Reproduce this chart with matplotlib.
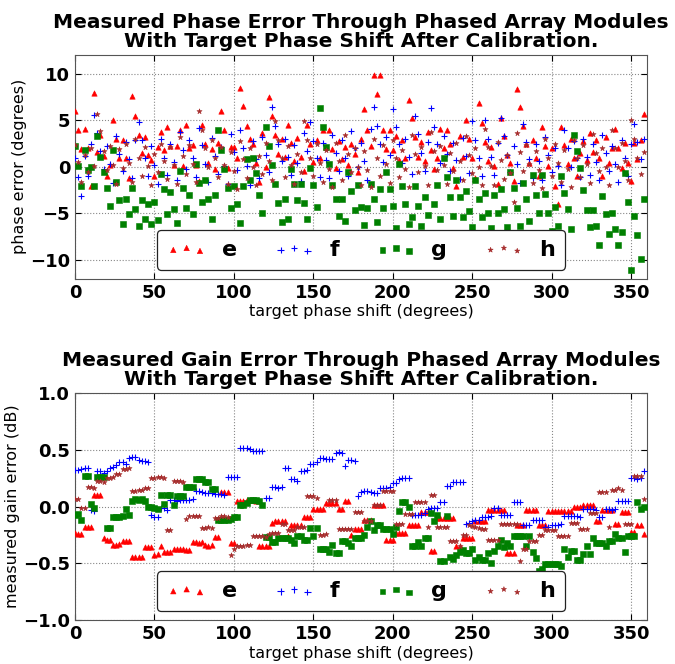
import numpy as np
import matplotlib
matplotlib.use("Agg")
import matplotlib.pyplot as plt

# target phase settings (2 degree steps)
phase = np.arange(0, 360, 2)

# ---- phase error (degrees) per module ----
phase_e = [6.0, 3.9, 1.9, 4.1, 2.0, -2.1, 7.9, 1.6, 3.4, 1.2,
           -1.0, 0.2, 5.0, 3.0, 1.0, 2.9, 0.9, -1.25, 7.6, 5.5,
           3.4, 1.5, 3.2, 1.25, 0.7, -1.0, 2.1, 3.75, 1.8, 4.3,
           2.2, 0.15, 2.2, 4.0, 0.1, 4.5, 2.0, 2.3, 0.2, -1.5,
           4.5, 2.4, 0.4, 1.9, -0.2, 2.6, 6.0, 3.9, -0.1, 2.1,
           2.1, 1.0, 8.5, 6.5, 4.4, 3.0, 2.4, 0.36, -1.6, 3.6,
           0.0, 7.5, 5.5, 3.4, 1.4, 3.0, 1.1, 4.5, 2.6, 0.6,
           3.1, 1.1, -0.5, 4.5, 2.5, 0.5, 2.9, 0.9, 3.9, 2.1,
           3.9, 1.9, -0.1, 2.75, 0.8, 2.1, 0.2, 2.5, 1.4, -0.6,
           3.0, 6.25, 3.9, 2.2, 9.9, 7.8, 9.9, 3.9, 1.9, 3.9,
           1.8, 3.3, 0.7, 2.9, 0.9, 7.2, 5.2, 3.2, 1.1, 2.7,
           0.6, 3.75, 1.8, -0.2, 1.0, 4.1, 2.0, 3.9, 2.4, -0.1,
           -2.1, 3.3, 1.1, 5.0, 3.0, 1.0, -1.2, 6.8, 4.7, 2.7,
           0.6, 2.1, 0.1, -1.8, 5.25, 3.3, 1.25, 0.4, -1.5, 8.4,
           6.4, 4.4, 2.4, 0.4, 2.9, 0.9, -1.0, 4.3, 2.2, 0.1,
           2.0, -2.1, -4.0, 4.3, 2.3, 0.3, 3.0, 1.0, -1.0, 1.5,
           2.8, 0.7, 3.6, 1.6, 2.9, 0.9, -1.0, 3.2, 0.4, 2.0,
           4.1, 2.0, -0.1, 2.6, 0.4, -1.5, 2.6, 0.8, 2.9, 5.7]
phase_f = [1.0, -1.1, -3.1, 1.2, -1.0, 2.4, 5.6, 3.6, 1.7, -0.2,
           2.2, 0.3, -1.7, 3.3, 1.4, -0.5, 2.7, 0.8, -1.2, 2.9,
           4.8, 2.9, 0.9, -1.0, 2.2, 0.2, -1.8, 3.0, 1.0, -0.9,
           2.4, 0.5, -1.4, 3.7, 1.8, -0.2, 2.9, 0.9, -1.1, 4.2,
           2.3, 0.3, -1.6, 3.1, 1.2, -0.8, 2.1, 0.1, -1.8, 3.5,
           1.6, -0.3, 4.0, 2.0, 0.1, -1.9, 2.8, 0.8, -1.2, 3.2,
           1.3, -0.6, 6.4, 4.4, 2.5, 0.6, 3.0, 1.1, -0.9, 2.3,
           0.4, -1.5, 3.6, 1.7, 4.8, 2.8, 0.9, -1.1, 2.6, 0.7,
           -1.2, 3.4, 1.5, -0.4, 2.9, 1.0, -1.0, 3.8, 2.0, 0.0,
           2.6, 0.6, -1.4, 4.1, 6.4, 4.4, 2.4, 0.5, 3.2, 1.3,
           6.25, 4.3, 2.4, 0.4, 3.0, 1.1, -0.8, 5.4, 3.5, 1.5,
           -0.4, 2.7, 6.3, 4.3, 2.4, 0.4, 3.3, 1.4, -0.5, 2.6,
           0.7, -1.3, 3.1, 1.2, -0.7, 4.9, 2.9, 1.0, -1.0, 5.0,
           3.0, 1.1, -0.9, 2.6, 5.2, 3.3, 1.3, -0.6, 2.2, 0.3,
           -1.7, 4.6, 2.7, 0.8, -1.2, 2.5, 0.6, -1.4, 3.2, 1.3,
           -0.6, 2.0, 0.1, -1.9, 3.9, 2.0, 0.0, 2.8, 0.9, -1.1,
           3.0, 1.1, -0.9, 2.4, 0.5, -1.4, 3.4, 1.5, -0.5, 2.2,
           0.3, -1.6, 2.9, 1.0, -1.0, 2.4, 4.6, 2.7, 0.8, 3.0]
phase_g = [2.2, 0.07, -2.1, 1.8, -0.3, 0.0, -2.1, 3.3, 1.1, -0.6,
           -2.3, -4.2, 1.8, -1.6, -3.6, -6.1, -3.5, -5.1, -2.25, -4.5,
           -6.4, -3.6, -5.6, -4.0, -6.1, -3.75, -5.7, -0.8, -2.4, -5.1,
           -2.7, -4.5, -6.0, -0.5, -2.25, -4.4, -3.0, -5.1, 0.25, -1.7,
           -3.75, -1.4, -3.4, -5.6, -3.0, 3.9, 1.8, -0.2, -2.3, -4.4,
           -2.1, -4.0, -6.0, -2.1, 0.86, -1.4, 1.0, -0.7, -3.0, -4.9,
           4.3, 2.2, 0.2, -1.8, -3.9, -5.9, -3.5, -5.6, -0.2, -1.8,
           -3.6, -1.8, -3.9, -5.6, -0.1, -2.0, -4.3, 6.3, 4.3, 2.1,
           0.3, -1.9, -3.5, -5.3, -3.5, -5.8, -0.6, -2.6, -4.6, -2.0,
           -4.3, -6.2, -4.4, -1.8, -3.5, -5.9, -2.4, -4.4, -0.6, -2.4,
           -4.2, -6.6, 0.3, -2.1, -4.0, -6.1, -5.4, -2.1, -4.2, -6.3,
           -3.2, -5.2, -7.1, -4.0, -2.0, -5.6, 1.0, -1.1, -3.2, -5.25,
           -1.4, -3.2, -5.4, -2.6, -4.7, -6.5, -1.4, -3.4, -5.4, -2.8,
           -4.9, -6.6, -3.0, -5.0, -2.4, -4.5, -6.5, -0.6, -2.25, -4.4,
           -6.3, -1.7, -3.5, -5.8, -0.9, -3.0, -4.9, -0.9, -2.9, -4.9,
           -6.9, -4.3, -6.4, -1.0, -2.8, -4.5, -6.7, 3.4, 1.7, -0.1,
           -2.5, -4.6, -6.5, -4.6, -6.3, -8.4, -3.1, -5.1, -7.2, -4.9,
           -6.7, -8.4, -7.0, -0.7, -3.75, -11.1, -5.3, -7.3, -9.9, -3.5]
phase_h = [2.3, 0.5, -1.6, 1.3, -0.6, 2.0, 0.1, 5.7, 3.8, 1.7,
           -0.3, 2.2, 0.2, -1.8, 1.9, -0.1, 2.4, 0.4, -1.6, 3.0,
           1.0, -1.0, 2.1, 0.1, -2.0, 1.4, -0.6, 2.5, 0.6, -1.3,
           2.1, 0.2, -1.8, 3.2, 1.2, -0.8, 2.3, 0.3, -1.6, 6.0,
           4.0, 2.0, 0.0, 2.9, 0.9, -1.1, 2.1, 0.2, -1.8, 1.6,
           -0.4, -2.4, 2.8, 0.8, -1.2, 2.0, 0.0, -2.0, 1.2, -0.8,
           2.6, 0.6, -1.4, 4.9, 2.9, 0.9, -1.1, 2.2, 0.2, -1.8,
           1.4, -0.6, 4.9, 2.9, 1.0, -1.0, 2.4, 0.4, -1.6, 1.8,
           -0.2, -2.2, 2.6, 0.6, -1.4, 3.4, 1.4, -0.6, 2.0, 0.0,
           -2.0, 1.7, -0.3, -2.2, 3.0, 1.0, -1.0, 2.3, 0.3, -1.7,
           2.9, 0.9, -1.1, 1.8, -0.2, -2.2, 3.4, 1.4, -0.6, 2.1,
           0.1, -1.9, 3.7, 1.7, -0.3, 2.2, 0.2, -1.8, 1.5, -0.5,
           2.6, 0.6, -1.4, 3.3, 1.3, -0.7, 2.0, 0.0, -2.0, 4.1,
           2.1, 0.1, -1.9, 2.7, 0.7, -1.3, 1.3, -0.7, -3.75, 3.6,
           1.6, -0.4, 2.3, 0.3, -1.7, 1.7, -0.3, -2.3, 3.0, 1.0,
           -1.0, 2.4, 0.4, -1.6, 1.8, -0.2, -2.2, 2.9, 0.9, -1.1,
           2.3, 0.3, -1.7, 3.5, 1.5, -0.5, 2.0, 0.0, -2.0, 4.0,
           2.0, 0.0, 2.6, 0.6, -1.4, 5.0, 3.0, 1.0, -0.8, 1.6]

# ---- gain error (dB) per module ----
gain_e = [-0.23, -0.24, -0.24, -0.18, -0.18, -0.18, 0.10, 0.10, 0.10, -0.28,
          -0.29, -0.29, -0.34, -0.34, -0.33, -0.30, -0.30, -0.30, -0.44, -0.44,
          -0.44, -0.44, -0.36, -0.36, -0.36, -0.43, -0.42, -0.35, -0.40, -0.40,
          -0.40, -0.37, -0.37, -0.37, -0.37, -0.38, -0.38, -0.31, -0.31, -0.32,
          -0.31, -0.34, -0.35, -0.34, -0.27, -0.27, 0.13, 0.13, 0.13, -0.32,
          -0.32, 0.05, 0.05, 0.05, 0.06, 0.06, 0.06, 0.05, -0.35, -0.35,
          -0.35, -0.35, -0.14, -0.13, -0.13, -0.13, -0.13, -0.26, -0.16, -0.16,
          -0.16, -0.16, -0.09, -0.09, -0.09, -0.02, -0.02, -0.02, -0.02, 0.03,
          0.035, 0.035, 0.035, -0.02, -0.02, 0.05, 0.05, -0.25, -0.20, -0.20,
          -0.20, -0.12, -0.12, -0.12, 0.01, 0.01, 0.01, 0.01, -0.29, -0.29,
          -0.29, -0.23, -0.23, -0.23, -0.23, -0.16, -0.16, -0.16, -0.16, -0.05,
          -0.05, -0.05, -0.39, -0.39, -0.10, -0.10, -0.10, -0.10, -0.10, -0.10,
          -0.35, -0.35, -0.28, -0.28, -0.28, -0.28, -0.13, -0.13, -0.13, -0.13,
          -0.03, -0.03, -0.03, -0.03, -0.03, -0.03, -0.41, -0.41, -0.41, -0.16,
          -0.16, -0.16, -0.03, -0.03, -0.03, -0.03, -0.16, -0.16, -0.16, -0.04,
          -0.04, -0.04, -0.04, -0.04, -0.04, -0.04, -0.04, -0.005, -0.005, -0.005,
          0.015, 0.015, 0.015, 0.015, -0.13, -0.13, -0.03, -0.03, -0.03, -0.03,
          -0.15, -0.15, -0.05, -0.05, -0.05, -0.22, -0.22, -0.16, -0.16, -0.24]
gain_f = [0.32, 0.32, 0.33, 0.34, 0.34, -0.03, -0.04, 0.31, 0.31, 0.30,
          0.31, 0.34, 0.35, 0.37, 0.39, 0.39, 0.38, 0.43, 0.44, 0.44,
          0.41, 0.40, 0.40, 0.39, -0.07, -0.09, -0.09, -0.01, -0.01, -0.03,
          0.06, 0.06, 0.05, 0.06, 0.06, 0.06, 0.06, 0.07, 0.14, 0.14,
          0.13, 0.12, 0.12, 0.12, 0.11, 0.11, 0.11, 0.10, 0.26, 0.26,
          0.26, 0.26, 0.52, 0.52, 0.52, 0.51, 0.49, 0.49, 0.49, 0.49,
          0.08, 0.08, 0.17, 0.17, 0.16, 0.17, 0.34, 0.34, 0.24, 0.24,
          0.23, 0.31, 0.31, 0.32, 0.38, 0.38, 0.39, 0.43, 0.43, 0.42,
          0.42, 0.42, 0.47, 0.48, 0.47, 0.36, 0.41, 0.41, 0.40, 0.09,
          0.13, 0.14, 0.14, 0.13, 0.12, 0.12, 0.16, 0.16, 0.16, 0.17,
          0.21, 0.21, 0.24, 0.25, 0.25, 0.25, -0.07, -0.07, -0.07, -0.07,
          -0.06, -0.02, -0.015, -0.015, -0.01, 0.04, 0.04, 0.18, 0.18, 0.22,
          0.22, 0.22, 0.22, -0.15, -0.14, -0.13, -0.12, -0.12, -0.09, -0.09,
          -0.09, -0.08, -0.01, -0.01, -0.07, -0.07, -0.07, -0.07, 0.04, 0.04,
          0.04, -0.16, -0.16, -0.16, -0.12, -0.12, -0.12, -0.12, -0.18, -0.18,
          -0.16, -0.16, -0.16, -0.15, -0.08, -0.08, -0.08, -0.08, -0.08, -0.09,
          -0.02, -0.02, -0.02, -0.02, -0.03, -0.09, -0.09, -0.02, -0.02, -0.03,
          -0.02, 0.05, 0.05, 0.05, 0.05, 0.25, 0.25, 0.24, 0.25, 0.31]
gain_g = [-0.07, -0.065, -0.12, 0.27, 0.27, 0.02, -0.01, 0.26, 0.26, 0.26,
          -0.19, -0.19, -0.09, -0.09, -0.09, -0.08, -0.02, -0.07, 0.05, 0.07,
          0.06, 0.07, 0.05, 0.0, 0.0, -0.01, -0.02, 0.10, 0.02, 0.10,
          0.10, 0.015, 0.09, 0.09, 0.09, 0.17, 0.17, 0.17, 0.24, 0.24,
          0.24, 0.22, 0.22, 0.155, 0.155, -0.12, -0.12, -0.12, -0.12, -0.11,
          -0.09, -0.09, 0.015, 0.015, 0.03, 0.06, 0.06, 0.06, 0.05, 0.015,
          -0.27, -0.27, -0.31, -0.31, -0.28, -0.28, -0.28, -0.28, -0.29, -0.32,
          -0.26, -0.26, -0.29, -0.29, -0.19, -0.26, -0.19, -0.37, -0.37, -0.37,
          -0.40, -0.34, -0.41, -0.41, -0.30, -0.30, -0.32, -0.35, -0.28, -0.28,
          -0.28, -0.25, -0.18, -0.13, -0.21, -0.16, -0.16, -0.20, -0.20, -0.20,
          -0.24, -0.18, -0.04, 0.04, 0.04, 0.0, -0.35, -0.35, -0.31, -0.35,
          -0.28, -0.28, -0.06, -0.13, -0.07, -0.48, -0.48, -0.08, -0.44, -0.46,
          -0.43, -0.40, -0.38, -0.41, -0.41, -0.37, -0.47, -0.44, -0.47, -0.47,
          -0.41, -0.50, -0.39, -0.35, -0.29, -0.36, -0.32, -0.35, -0.26, -0.26,
          -0.26, -0.26, -0.35, -0.26, -0.40, -0.45, -0.57, -0.55, -0.51, -0.51,
          -0.51, -0.51, -0.51, -0.52, -0.37, -0.44, -0.39, -0.39, -0.47, -0.47,
          -0.42, -0.35, -0.42, -0.28, -0.32, -0.32, -0.32, -0.35, -0.30, -0.30,
          -0.24, -0.28, -0.28, -0.40, -0.26, -0.26, -0.26, 0.04, -0.02, 0.0]
gain_h = [0.07, 0.07, -0.01, -0.01, 0.17, 0.17, 0.16, 0.23, 0.23, 0.22,
          0.25, 0.25, 0.26, 0.285, 0.29, 0.33, 0.33, 0.34, 0.14, 0.14,
          0.15, 0.15, 0.16, 0.16, 0.25, 0.25, 0.26, 0.26, 0.25, -0.21,
          -0.21, 0.23, 0.23, 0.23, 0.22, -0.11, -0.08, -0.08, -0.08, -0.08,
          -0.185, -0.185, -0.18, -0.19, -0.10, -0.10, -0.08, -0.08, -0.09, -0.43,
          -0.37, -0.35, -0.35, -0.35, -0.34, -0.34, -0.26, -0.26, -0.26, -0.26,
          -0.27, -0.24, -0.235, -0.235, -0.23, -0.15, -0.15, -0.21, -0.21, -0.21,
          -0.18, -0.18, -0.18, 0.09, 0.09, 0.09, 0.08, -0.25, -0.25, -0.24,
          0.06, 0.06, 0.06, -0.20, -0.20, -0.20, -0.20, -0.20, -0.045, -0.045,
          -0.045, -0.13, -0.13, -0.13, 0.015, 0.015, 0.015, 0.14, 0.14, 0.14,
          0.14, -0.15, -0.15, -0.15, -0.065, -0.065, -0.065, 0.045, 0.045, 0.045,
          0.045, -0.18, 0.10, 0.10, -0.18, -0.18, -0.18, -0.18, -0.30, -0.30,
          -0.30, -0.35, -0.25, -0.25, -0.16, -0.17, -0.18, -0.19, -0.20, -0.20,
          -0.29, -0.29, -0.29, -0.29, -0.15, -0.15, -0.15, -0.15, -0.15, -0.15,
          -0.48, -0.37, -0.37, -0.30, -0.30, -0.30, -0.25, -0.25, -0.21, -0.21,
          -0.21, -0.21, -0.26, -0.26, -0.26, -0.26, -0.14, -0.14, -0.14, -0.20,
          -0.20, -0.20, -0.06, -0.06, -0.06, 0.13, 0.13, 0.13, -0.18, 0.15,
          0.15, 0.16, 0.15, -0.15, -0.15, -0.15, 0.27, 0.27, 0.27, 0.065]

modules = ["e", "f", "g", "h"]
colors = ["red", "blue", "green", "brown"]
markers = ["^", "+", "s", "*"]


def draw_panel(ax, series, title, ylabel, ylim, yticks, ytick_labels):
    for name, vals, c, m in zip(modules, series, colors, markers):
        if m == "+":
            ax.scatter(phase, vals, s=22, c=c, marker=m, linewidths=0.8, label=name, zorder=3)
        else:
            ax.scatter(phase, vals, s=15, c=c, marker=m, edgecolors=c,
                       linewidths=0.4, label=name, zorder=3)
    ax.set_xlim(0, 360)
    ax.set_ylim(*ylim)
    ax.set_xticks([0, 50, 100, 150, 200, 250, 300, 350])
    ax.set_yticks(yticks)
    ax.set_yticklabels(ytick_labels)
    for lab in ax.get_xticklabels() + ax.get_yticklabels():
        lab.set_fontweight("bold")
    ax.tick_params(direction="in", top=True, right=True, labelsize=13, length=4)
    ax.grid(True, color="#888888", linestyle=":", linewidth=0.8)
    for sp in ax.spines.values():
        sp.set_color("#555555")
    ax.set_title(title, fontsize=14.5, fontweight="bold", linespacing=1.0)
    ax.set_xlabel("target phase shift (degrees)", fontsize=11.5, labelpad=2)
    ax.set_ylabel(ylabel, fontsize=11.5, labelpad=2)
    leg = ax.legend(loc="lower center", ncol=4, scatterpoints=3,
                    scatteryoffsets=[0.375, 0.5, 0.3125],
                    prop={"weight": "bold", "size": 16}, fancybox=True,
                    framealpha=1, edgecolor="#222222", handlelength=1.8,
                    handletextpad=0.7, columnspacing=1.65, borderaxespad=0.4,
                    borderpad=0.45)
    leg.get_frame().set_linewidth(0.9)


fig = plt.figure(figsize=(6.75, 6.64), dpi=100)
ax1 = fig.add_axes([0.1111, 0.5803, 0.8474, 0.3369])
ax2 = fig.add_axes([0.1111, 0.0663, 0.8474, 0.3414])

draw_panel(ax1, [phase_e, phase_f, phase_g, phase_h],
           "Measured Phase Error Through Phased Array Modules\nWith Target Phase Shift After Calibration.",
           "phase error (degrees)", (-12, 12), [-10, -5, 0, 5, 10],
           ["\u221210", "\u22125", "0", "5", "10"])
draw_panel(ax2, [gain_e, gain_f, gain_g, gain_h],
           "Measured Gain Error Through Phased Array Modules\nWith Target Phase Shift After Calibration.",
           "measured gain error (dB)", (-1, 1), [-1.0, -0.5, 0.0, 0.5, 1.0],
           ["\u22121.0", "\u22120.5", "0.0", "0.5", "1.0"])

fig.savefig("out.png", dpi=100)
